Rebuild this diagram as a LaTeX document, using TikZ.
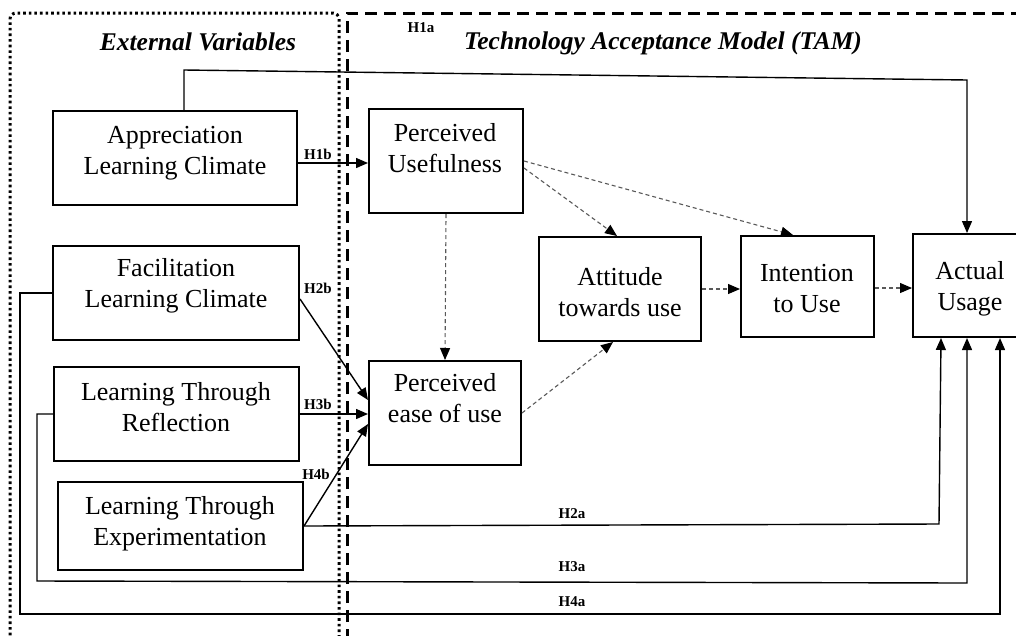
\documentclass[tikz,border=0pt]{standalone}
\usepackage{fontspec}
\setmainfont{Liberation Serif}
\usetikzlibrary{arrows.meta}
\begin{document}
\begin{tikzpicture}[x=1pt,y=-1pt,
  box/.style={draw, line width=2pt, inner sep=0pt},
  txt/.style={inner sep=0pt, align=center, font=\fontsize{26}{31}\selectfont},
  title/.style={inner sep=0pt, font=\fontsize{25.5}{30}\selectfont\bfseries\itshape},
  hl/.style={inner sep=0pt, font=\fontsize{15}{18}\selectfont\bfseries},
  arr/.style={line width=1.4pt, -{Triangle[length=12pt,width=10pt]}},
  darr/.style={line width=1.1pt, draw=black!65, dash pattern=on 4pt off 3pt, -{Triangle[length=12pt,width=10pt,color=black]}},
  dotframe/.style={line width=3pt, dash pattern=on 2.6pt off 3pt, rounded corners=6pt},
  dashframe/.style={line width=3pt, dash pattern=on 12pt off 7pt}
]
\useasboundingbox (0,0) rectangle (1016,635);
\fill[white] (0,0) rectangle (1016,635);

% frames
\draw[dotframe] (339,660) -- (339,13) -- (10,13) -- (10,660);
\draw[dashframe] (347,660) -- (347,13) -- (1040,13);

% titles
\node[title] (t-ev) at (198,42) {External Variables};
\node[title] (t-tam) at (663,43) {Technology Acceptance Model (TAM)};

% boxes
\node[box, minimum width=244pt, minimum height=94pt] (apc) at (175,158) {};
\node[box, minimum width=246pt, minimum height=94pt] (flc) at (176,293) {};
\node[box, minimum width=245pt, minimum height=94pt] (ltr) at (176.5,414) {};
\node[box, minimum width=245pt, minimum height=88pt] (lte) at (180.5,526) {};
\node[box, minimum width=154pt, minimum height=104pt] (pu) at (446,161) {};
\node[box, minimum width=152pt, minimum height=104pt] (peou) at (445,413) {};
\node[box, minimum width=162pt, minimum height=104pt] (att) at (620,289) {};
\node[box, minimum width=133pt, minimum height=101pt] (itu) at (807.5,286.5) {};
\node[box, minimum width=114pt, minimum height=103pt] (au) at (970,285.5) {};

% box texts
\node[txt] (apc-t) at (175,153) {Appreciation\\Learning Climate};
\node[txt] (flc-t) at (176,286) {Facilitation\\Learning Climate};
\node[txt] (ltr-t) at (176,407) {Learning Through\\Reflection};
\node[txt] (lte-t) at (180,524) {Learning Through\\Experimentation};
\node[txt] (pu-t) at (445,148) {Perceived\\Usefulness};
\node[txt] (peou-t) at (445,398) {Perceived\\ease of use};
\node[txt] (att-t) at (620,292) {Attitude\\towards use};
\node[txt] (itu-t) at (807,289) {Intention\\to Use};
\node[txt] (au-t) at (970,289) {Actual\\Usage};

% coordinates for routed connectors
\coordinate (h1a-l) at (184,70);
\coordinate (h1a-r) at (967,80);
\coordinate (h2a-r) at (939,524);
\coordinate (h3a-bl) at (37,581);
\coordinate (h3a-br) at (967,583);
\coordinate (h4a-bl) at (20,614);
\coordinate (h4a-br) at (1000,614);

% solid connectors
\draw[arr] (apc.north -| h1a-l) -- (h1a-l) -- (h1a-r) -- (h1a-r |- au.north);
\draw[arr] (apc.east |- 0,163) -- (pu.west |- 0,163);
\draw[arr] (flc.east |- 0,299) -- (peou.west |- 0,400);
\draw[arr] (ltr.east) -- (ltr.east -| peou.west);
\draw[arr] (lte.east) -- (peou.west |- 0,424);
\draw[arr] (lte.east) -- (h2a-r) -- (au.south -| 941,0);
\draw[arr] (ltr.west) -- (ltr.west -| h3a-bl) -- (h3a-bl) -- (h3a-br) -- (h3a-br |- au.south);
\draw[arr] (flc.west) -- (flc.west -| h4a-bl) -- (h4a-bl) -- (h4a-br) -- (h4a-br |- au.south);

% dashed connectors
\draw[darr] (pu.south) -- (peou.north);
\draw[darr] (pu.east |- 0,168) -- (att.north -| 617,0);
\draw[darr] (pu.east |- 0,161) -- (itu.north -| 793,0);
\draw[darr] (peou.east) -- (att.south -| 613,0);
\draw[darr] (att.east) -- (att.east -| itu.west);
\draw[darr] (itu.east |- 0,288) -- (au.west |- 0,288);

% hypothesis labels
\node[hl] (l-h1a) at (421,28) {H1a};
\node[hl] (l-h1b) at (318,154) {H1b};
\node[hl] (l-h2b) at (318,288) {H2b};
\node[hl] (l-h3b) at (318,404) {H3b};
\node[hl] (l-h4b) at (316,474) {H4b};
\node[hl] (l-h2a) at (572,514) {H2a};
\node[hl] (l-h3a) at (572,567) {H3a};
\node[hl] (l-h4a) at (572,602) {H4a};
\end{tikzpicture}
\end{document}
